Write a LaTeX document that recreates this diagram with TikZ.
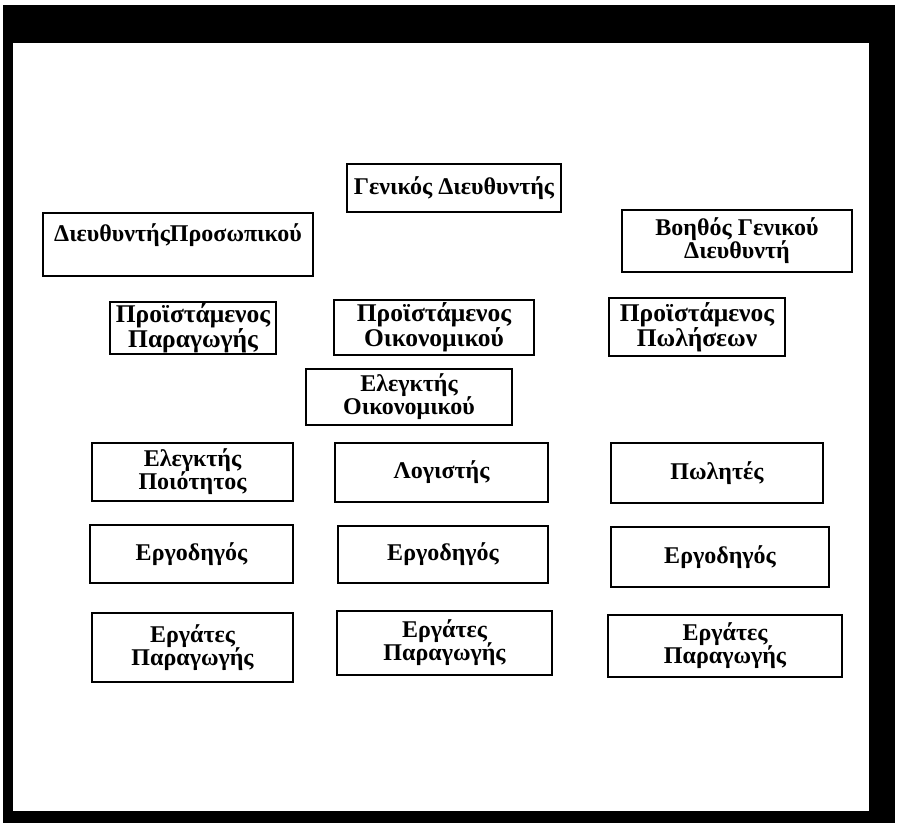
\documentclass[tikz,border=0pt]{standalone}
\usepackage{fontspec}
\setmainfont{Liberation Serif}
\usepackage{tikz}
\usetikzlibrary{shapes}

\tikzset{box/.style={rectangle, draw, line width=1.3pt, align=center, inner sep=0pt,
    font=\bfseries\fontsize{24}{23}\selectfont},
  headbox/.style={box, font=\bfseries\fontsize{25.5}{25}\selectfont}}

\begin{document}
\begin{tikzpicture}[x=1pt,y=-1pt]
  \useasboundingbox (0,0) rectangle (897,824);
  % frame
  \fill (3,5) rectangle (895,823);
  \fill[white] (13,43) rectangle (869,811);

  \foreach \x/\y/\w/\h/\name/\txt in {454/188/214/48/gd/Γενικός Διευθυντής, 178/244.5/270/63/dp/ΔιευθυντήςΠροσωπικού\\ \mbox{}, 737/241/230/62/bgd/Βοηθός Γενικού\\Διευθυντή, 409/397/206/56/eo/Ελεγκτής\\Οικονομικού, 192.5/472/201/58/ep/Ελεγκτής\\Ποιότητος, 441.5/472.5/213/59/lg/Λογιστής, 717/473/212/60/pw/Πωλητές, 191.5/554/203/58/er1/Εργοδηγός, 443/554.5/210/57/er2/Εργοδηγός, 720/557/218/60/er3/Εργοδηγός, 192.5/647.5/201/69/wk1/Εργάτες\\Παραγωγής, 444.5/643/215/64/wk2/Εργάτες\\Παραγωγής, 725/646/234/62/wk3/Εργάτες\\Παραγωγής}{
    \node[box, minimum width=\w pt, minimum height=\h pt] (\name) at (\x,\y) {\txt}; }

  \foreach \x/\y/\w/\h/\name/\txt in {193/328/166/52/pp/Προϊστάμενος\\Παραγωγής, 434/327.5/200/55/po/Προϊστάμενος\\Οικονομικού, 697/327/176/58/ppo/Προϊστάμενος\\Πωλήσεων}{
    \node[headbox, minimum width=\w pt, minimum height=\h pt] (\name) at (\x,\y) {\txt}; }
\end{tikzpicture}
\end{document}
